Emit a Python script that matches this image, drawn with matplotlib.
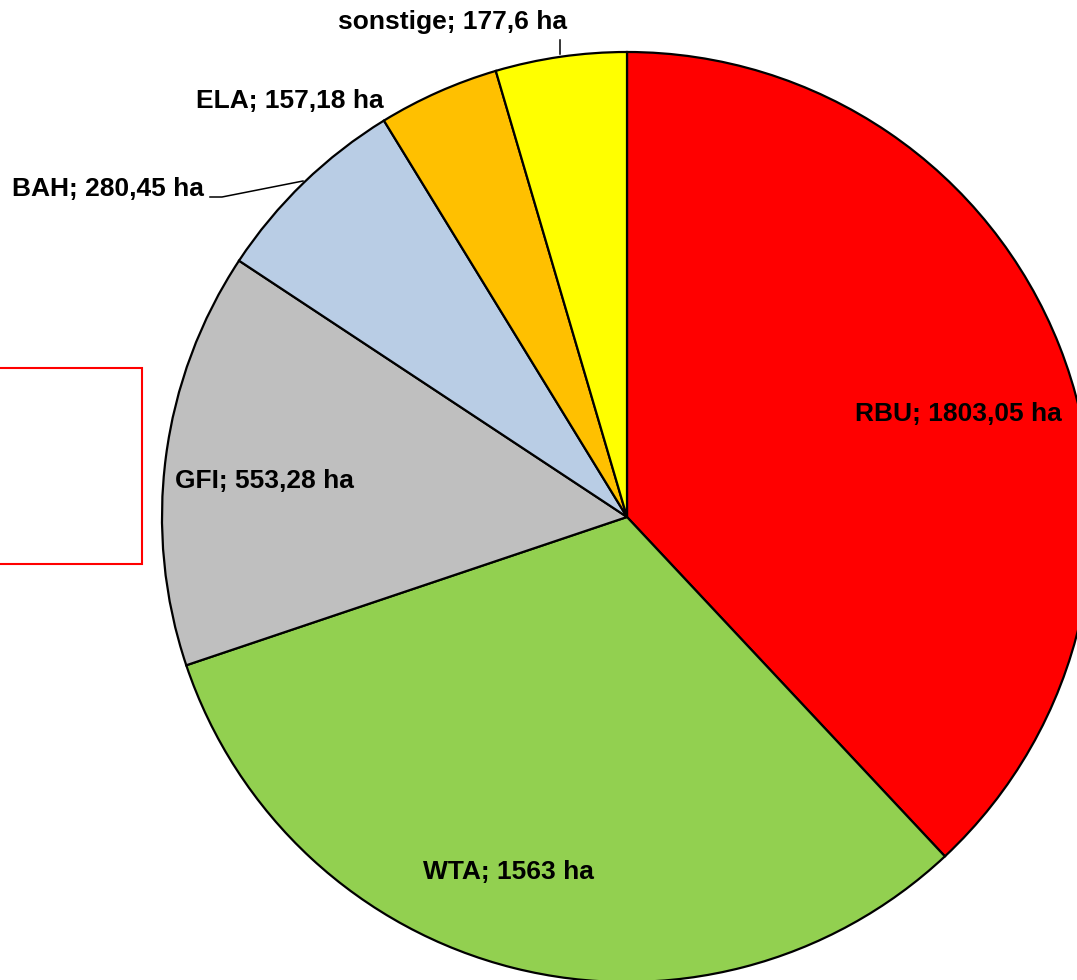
import matplotlib.pyplot as plt
from matplotlib.patches import Rectangle

# slice shares as drawn (% of circle), clockwise from 12 o'clock
names = ["RBU", "WTA", "GFI", "BAH", "ELA", "sonstige"]
shares = [38.0, 31.8, 14.45, 6.95, 4.2, 4.55]
# values printed in the labels (ha)
value_text = ["1803,05", "1563", "553,28", "280,45", "157,18", "177,6"]
colors = ["#FF0000", "#92D050", "#BFBFBF", "#B9CDE5", "#FFC000", "#FFFF00"]

# label placement in pixel coords (y from bottom)
label_pos = [(958, 566), (508, 108), (264, 499), (108, 791), (290, 879), (452, 958)]

plt.rcParams['font.family'] = ['Liberation Sans', 'DejaVu Sans']

fig = plt.figure(figsize=(10.77, 9.8), dpi=100)
ax = fig.add_axes([0, 0, 1, 1])

ax.pie(shares, colors=colors, startangle=90, counterclock=False,
       center=(627, 463), radius=465,
       wedgeprops=dict(edgecolor='black', linewidth=1.6))

ax.set_xlim(0, 1077)
ax.set_ylim(0, 980)
ax.set_aspect('equal')
ax.axis('off')

for name, vt, (x, y) in zip(names, value_text, label_pos):
    ax.text(x, y, f"{name}; {vt} ha", ha='center', va='center',
            fontsize=19, fontweight='bold')

# leader lines
ax.plot([210, 222, 303], [783, 783, 799], color='black', lw=1.1)
ax.plot([560, 560], [940, 926], color='black', lw=1.1)

# empty red box on the left
ax.add_patch(Rectangle((-5, 416), 147, 196, fill=False, edgecolor='#FF0000', lw=1.5))

fig.savefig("out.png", dpi=100)
